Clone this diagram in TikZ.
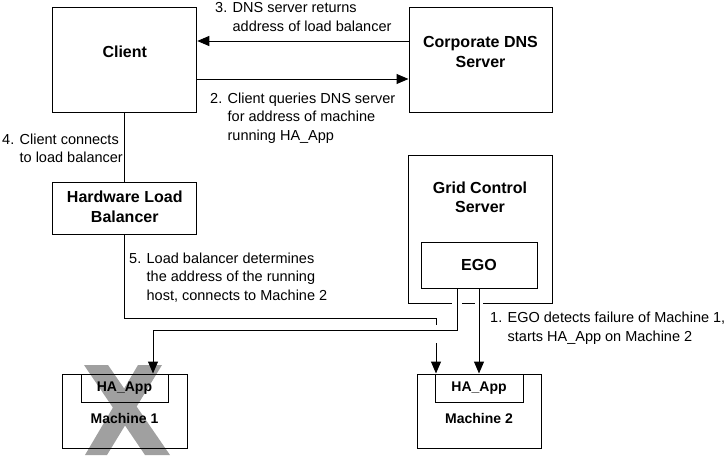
\documentclass[tikz,border=0pt]{standalone}
\usepackage{fontspec}
\setmainfont{Liberation Sans}
\usetikzlibrary{arrows.meta}
\definecolor{xgray}{RGB}{160,160,160}
\begin{document}
\begin{tikzpicture}[x=1pt,y=-1pt,
  box/.style={draw,line width=1pt,inner sep=0pt},
  lbl/.style={font=\fontsize{16pt}{19.5pt}\selectfont\bfseries,align=center,inner sep=0pt},
  mlbl/.style={font=\fontsize{14pt}{17pt}\selectfont\bfseries,align=center,inner sep=0pt},
  note/.style={font=\fontsize{14.5pt}{18.5pt}\selectfont,align=left,anchor=west,inner sep=0pt},
  conn/.style={line width=1pt},
  arr/.style={line width=1pt,-{Triangle[length=12pt,width=10pt]}}]
\useasboundingbox (0,0) rectangle (727,455);
% gray X over Machine 1
\fill[xgray] (84,365) -- (108,365) -- (170,455) -- (145,455) -- cycle;
\fill[xgray] (138,365) -- (162,365) -- (107,455) -- (85,455) -- cycle;
% boxes
\node[box,minimum width=144pt,minimum height=105pt] (client) at (124.75,59.5) {};
\node[lbl] (clientT) at (124.75,52) {Client};
\node[box,minimum width=143pt,minimum height=105pt] (corp) at (480.5,59.5) {};
\node[lbl] (corpT) at (480.5,52) {Corporate DNS\\Server};
\node[box,minimum width=144pt,minimum height=52pt] (hlb) at (124.75,208) {};
\node[lbl] (hlbT) at (124.75,207) {Hardware Load\\Balancer};
\node[box,minimum width=144pt,minimum height=148pt] (grid) at (480,229) {};
\node[lbl] (gridT) at (480,197.5) {Grid Control\\Server};
\node[box,minimum width=116pt,minimum height=46pt] (ego) at (479,265) {};
\node[lbl] (egoT) at (479,265) {EGO};
\node[box,minimum width=125pt,minimum height=74pt] (m1) at (124.5,411) {};
\node[box,minimum width=87pt,minimum height=28pt] (m1app) at (124.5,388) {};
\node[mlbl] (m1appT) at (124.5,388) {HA\_App};
\node[mlbl] (m1T) at (124.5,418) {Machine 1};
\node[box,minimum width=124pt,minimum height=74pt] (m2) at (479,411) {};
\node[box,minimum width=88pt,minimum height=28pt] (m2app) at (479,388) {};
\node[mlbl] (m2appT) at (479,388) {HA\_App};
\node[mlbl] (m2T) at (479,418) {Machine 2};
% coordinates
\coordinate (a3) at (300,41);
\coordinate (a2) at (300,79);
\coordinate (j5) at (436,318);
\coordinate (j5e) at (436,325);
\coordinate (a5) at (436,343);
\coordinate (e1) at (457,330);
% connectors
\draw[arr] (corp.west |- a3) -- (client.east |- a3);
\draw[arr] (client.east |- a2) -- (corp.west |- a2);
\draw[conn] (client.south) -- (client.south |- hlb.north);
\draw[conn] (hlb.south) |- (j5) -- (j5e);
\draw[arr] (a5) -- (a5 |- m2.north);
% gaps in grid box bottom
\draw[white,line width=2pt] ([xshift=-5pt]grid.south -| e1) -- ([xshift=5pt]grid.south -| e1);
\draw[white,line width=2pt] ([xshift=-4pt]grid.south -| ego.south) -- ([xshift=4pt]grid.south -| ego.south);
\draw[arr] (ego.south -| e1) -- (e1) -| ([xshift=28.5pt]m1.north);
\draw[arr] (ego.south) -- (m2.north);
% notes
\node[note] (t3) at (215,17) {3. DNS server returns\\\hphantom{3. }address of load balancer};
\node[note] (t2) at (210,118) {2. Client queries DNS server\\\hphantom{2. }for address of machine\\\hphantom{2. }running HA\_App};
\node[note] (t4) at (2,148.5) {4. Client connects\\\hphantom{4. }to load balancer};
\node[note] (t5) at (129,277.5) {5. Load balancer determines\\\hphantom{5. }the address of the running\\\hphantom{5. }host, connects to Machine 2};
\node[note] (t1) at (490,328) {1. EGO detects failure of Machine 1,\\\hphantom{1. }starts HA\_App on Machine 2};
\end{tikzpicture}
\end{document}
